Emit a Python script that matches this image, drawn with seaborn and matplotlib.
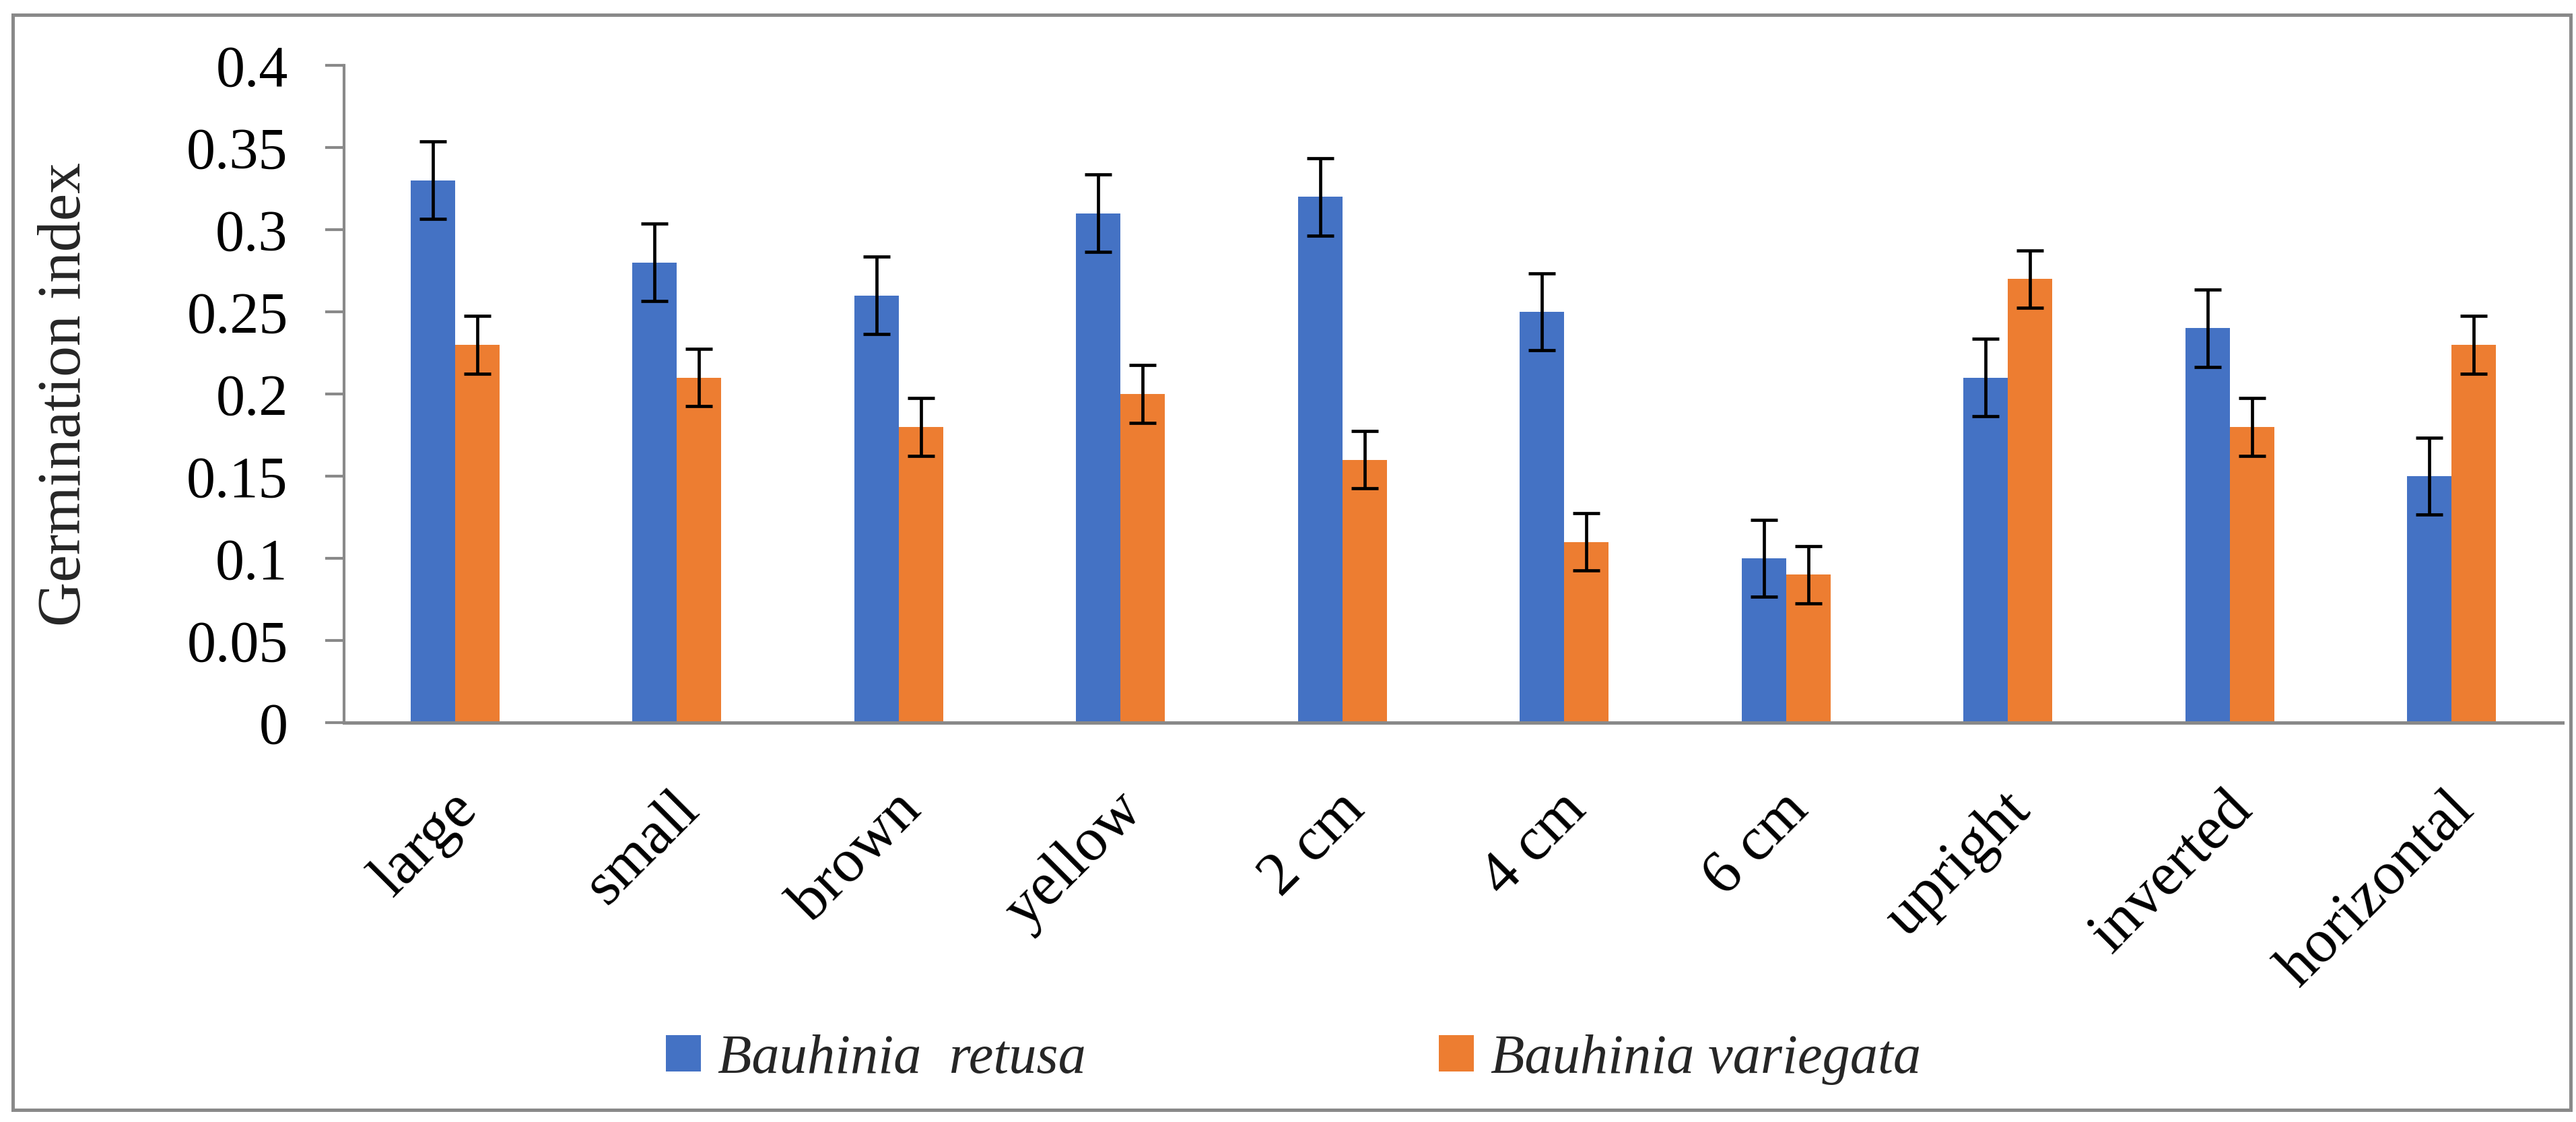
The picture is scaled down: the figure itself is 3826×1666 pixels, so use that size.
import matplotlib
matplotlib.use("Agg")
import matplotlib.pyplot as plt
import matplotlib.transforms as mtransforms
import seaborn as sns
import pandas as pd
import numpy as np
from matplotlib.patches import Rectangle

categories = ["large", "small", "brown", "yellow", "2 cm", "4 cm", "6 cm", "upright", "inverted", "horizontal"]
series_names = ["Bauhinia  retusa", "Bauhinia variegata"]
retusa = [0.33, 0.28, 0.26, 0.31, 0.32, 0.25, 0.10, 0.21, 0.24, 0.15]
variegata = [0.23, 0.21, 0.18, 0.20, 0.16, 0.11, 0.09, 0.27, 0.18, 0.23]
retusa_err = [0.0235] * 10
variegata_err = [0.0175] * 10
yticks = [0, 0.05, 0.1, 0.15, 0.2, 0.25, 0.3, 0.35, 0.4]
ytick_labels = ["0", "0.05", "0.1", "0.15", "0.2", "0.25", "0.3", "0.35", "0.4"]
colors = ["#4472C4", "#ED7D31"]

df = pd.DataFrame({
    "category": categories * 2,
    "series": [series_names[0]] * 10 + [series_names[1]] * 10,
    "value": retusa + variegata,
    "err": retusa_err + variegata_err,
})

sns.set_theme(style="white")
plt.rcParams["font.family"] = ["Liberation Serif", "DejaVu Serif"]

DPI = 200
W, H = 3826, 1666
fig = plt.figure(figsize=(W / DPI, H / DPI), dpi=DPI)
ax = fig.add_axes([511 / W, (H - 1073) / H, (3806 - 511) / W, (1073 - 97) / H])

sns.barplot(data=df, x="category", y="value", hue="series", order=categories,
            hue_order=series_names, palette=colors, width=0.4, errorbar=None,
            saturation=1, linewidth=0, ax=ax)

# error bars at the bar centers taken from the drawn patches
bars = [p for p in ax.patches if p.get_width() > 0][:20]
errs = retusa_err + variegata_err
for p, e in zip(bars, errs):
    xc = p.get_x() + p.get_width() / 2
    ax.errorbar(xc, p.get_height(), yerr=e, fmt="none", ecolor="black",
                elinewidth=1.7, capsize=7.2, capthick=1.7)

ax.set_xlim(-0.5, 9.5)
ax.set_ylim(0, 0.4)
ax.set_yticks(yticks)
ax.set_yticklabels(ytick_labels)
gray = "#898989"
for s in ["top", "right"]:
    ax.spines[s].set_visible(False)
ax.spines["left"].set_color(gray)
ax.spines["left"].set_linewidth(1.5)
ax.spines["bottom"].set_color(gray)
ax.spines["bottom"].set_linewidth(1.8)
ax.tick_params(axis="y", which="major", direction="out", length=10, width=1.5,
               color=gray, pad=20, labelsize=31, labelcolor="black", left=True)
ax.tick_params(axis="x", length=0, pad=42, labelsize=33, labelcolor="black")
shift = mtransforms.ScaledTranslation(0.1, 0, fig.dpi_scale_trans)
for lab in ax.get_xticklabels():
    lab.set_rotation(45)
    lab.set_ha("right")
    lab.set_va("center")
    lab.set_rotation_mode("anchor")
    lab.set_transform(lab.get_transform() + shift)
ax.set_xlabel("")
ax.set_ylabel("Germination index", fontsize=33, labelpad=50)
ax.grid(False)

handles, labels = ax.get_legend_handles_labels()
ax.legend(handles, labels, loc="center", bbox_to_anchor=(1921 / W, 1 - 1573 / H),
          bbox_transform=fig.transFigure, ncol=2, frameon=False,
          prop={"family": ["Liberation Serif"], "style": "italic", "size": 29.7},
          columnspacing=6.36, handlelength=0.63, handleheight=0.63, handletextpad=0.3,
          borderpad=0, borderaxespad=0)

fig.patches.append(Rectangle((19 / W, 1 - 1648 / H), (3818 - 19) / W, (1648 - 22) / H,
                             transform=fig.transFigure, fill=False, edgecolor=gray,
                             linewidth=1.8, zorder=0))

fig.savefig("out.png", dpi=DPI, facecolor="white")
